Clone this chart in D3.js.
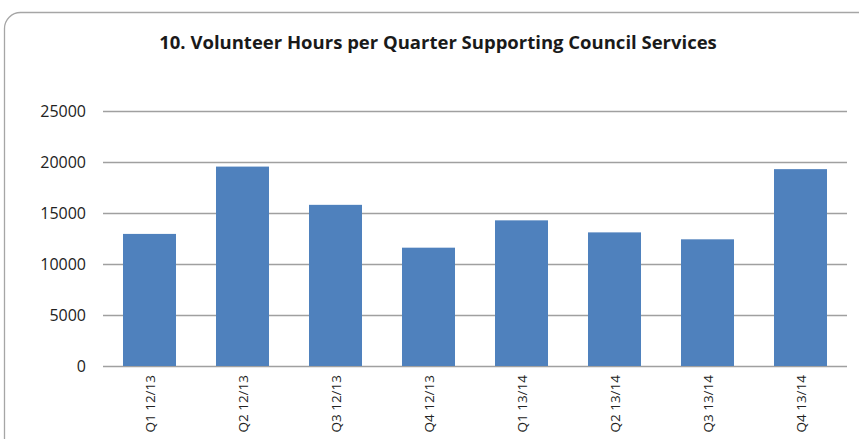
<!DOCTYPE html>
<html>
<head>
<meta charset="utf-8">
<script src="https://cdn.jsdelivr.net/npm/d3@7"></script>
<style>
  body { margin: 0; background: #fff; }
  svg { display: block; font-family: "Open Sans", sans-serif; }
  .grid line { stroke: #a0a0a0; stroke-width: 1.3; }
  .grid .domain { display: none; }
</style>
</head>
<body>
<script>
// chart data
var quarters = ["Q1 12/13", "Q2 12/13", "Q3 12/13", "Q4 12/13", "Q1 13/14", "Q2 13/14", "Q3 13/14", "Q4 13/14"];
var hours = [12950, 19550, 15800, 11600, 14280, 13100, 12420, 19300];
var yTicks = [0, 5000, 10000, 15000, 20000, 25000];

var w = 859, h = 439;
var margin = {top: 111, right: 12, bottom: 73, left: 103};
var pw = w - margin.left - margin.right;
var ph = h - margin.top - margin.bottom;

var svg = d3.select("body").append("svg")
    .attr("width", w)
    .attr("height", h);

// rounded frame, runs off the right and bottom
svg.append("rect")
    .attr("x", 4.5).attr("y", 12.5)
    .attr("width", 900).attr("height", 500)
    .attr("rx", 16).attr("ry", 16)
    .attr("fill", "none")
    .attr("stroke", "#a6a6a6")
    .attr("stroke-width", 1.3);

// title
svg.append("text")
    .attr("x", 438)
    .attr("y", 49)
    .attr("text-anchor", "middle")
    .attr("font-weight", "bold")
    .attr("font-size", 18.5)
    .attr("fill", "#1a1a1a")
    .text("10. Volunteer Hours per Quarter Supporting Council Services");

var g = svg.append("g")
    .attr("transform", "translate(" + margin.left + "," + margin.top + ")");

var x = d3.scaleBand().domain(quarters).range([0, pw]).paddingInner(0.43).paddingOuter(0.215);
var y = d3.scaleLinear().domain([0, 25000]).range([ph, 0]);

// gridlines
g.append("g")
    .attr("class", "grid")
    .call(d3.axisLeft(y).tickValues(yTicks).tickSize(-pw).tickFormat(""));

// y labels
g.selectAll(".ylab")
    .data(yTicks)
    .enter()
    .append("text")
    .attr("class", "ylab")
    .attr("x", -17)
    .attr("y", function(d) { return y(d); })
    .attr("dy", "0.36em")
    .attr("text-anchor", "end")
    .attr("font-size", 16)
    .attr("fill", "#222")
    .text(function(d) { return d; });

// bars
g.selectAll("rect.bar")
    .data(hours)
    .enter()
    .append("rect")
    .attr("class", "bar")
    .attr("x", function(d, i) { return x(quarters[i]); })
    .attr("y", function(d) { return y(d); })
    .attr("width", x.bandwidth())
    .attr("height", function(d) { return ph - y(d); })
    .attr("fill", "#4f81bd");

// x labels, rotated
g.selectAll(".xlab")
    .data(quarters)
    .enter()
    .append("text")
    .attr("class", "xlab")
    .attr("transform", function(d) {
      return "translate(" + (x(d) + x.bandwidth() / 2 + 5) + "," + (ph + 9) + ") rotate(-90)";
    })
    .attr("text-anchor", "end")
    .attr("font-size", 13.5)
    .attr("fill", "#222")
    .text(function(d) { return d; });
</script>
</body>
</html>
